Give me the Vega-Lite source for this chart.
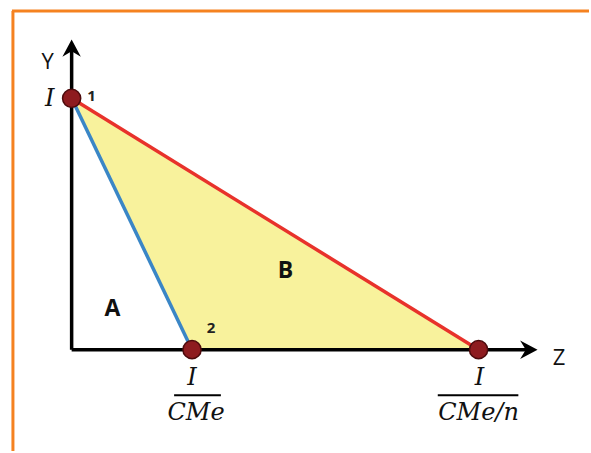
{
  "$schema": "https://vega.github.io/schema/vega-lite/v6.json",
  "width": 591,
  "height": 453,
  "padding": 0,
  "autosize": {"type": "fit", "contains": "padding"},
  "background": "white",
  "config": {"view": {"stroke": null}},
  "datasets": {
    "frame": [
      {"x": -6.0, "y": 34.1, "x2": 52.0, "y2": 34.1},
      {"x": -5.9, "y": 34.1, "x2": -5.9, "y2": -10.2}
    ],
    "axes": [
      {"x": 0, "y": 0, "x2": 46.0, "y2": 0},
      {"x": 0, "y": 0, "x2": 0, "y2": 30.5}
    ],
    "heads": [
      {"x": 0, "y": 30.2, "angle": 0},
      {"x": 45.8, "y": 0, "angle": 90}
    ],
    "triangle": [
      {"x": 0, "y": 25.3, "y2": 25.3},
      {"x": 12.1, "y": 17.82, "y2": 0},
      {"x": 40.9, "y": 0, "y2": 0}
    ],
    "segments": [
      {"x": 0, "y": 25.3, "x2": 12.1, "y2": 0, "line": "blue"},
      {"x": 0, "y": 25.3, "x2": 40.9, "y2": 0, "line": "red"}
    ],
    "bars": [
      {"x": 10.3, "y": -4.6, "x2": 15.0, "y2": -4.6},
      {"x": 36.8, "y": -4.6, "x2": 44.9, "y2": -4.6}
    ],
    "points": [
      {"x": 0, "y": 25.3, "id": "1"},
      {"x": 12.1, "y": 0, "id": "2"},
      {"x": 40.9, "y": 0, "id": "3"}
    ],
    "axisLabels": [
      {"x": -2.4, "y": 29.0, "label": "Y"},
      {"x": 49.0, "y": -0.8, "label": "Z"}
    ],
    "numLabels": [
      {"x": 2.0, "y": 25.5, "label": "1"},
      {"x": 14.0, "y": 2.2, "label": "2"}
    ],
    "regionLabels": [
      {"x": 4.1, "y": 4.1, "label": "A"},
      {"x": 21.5, "y": 7.9, "label": "B"}
    ],
    "mathLabels": [
      {"x": -2.2, "y": 25.2, "label": "I"},
      {"x": 12.1, "y": -2.9, "label": "I"},
      {"x": 12.5, "y": -6.4, "label": "CMe"},
      {"x": 41.0, "y": -2.9, "label": "I"},
      {"x": 40.9, "y": -6.4, "label": "CMe/n"}
    ]
  },
  "encoding": {
    "x": {"field": "x", "type": "quantitative", "scale": {"domain": [-7.2, 51.9], "nice": false, "zero": false}, "axis": null},
    "y": {"field": "y", "type": "quantitative", "scale": {"domain": [-10.1, 35.2], "nice": false, "zero": false}, "axis": null}
  },
  "layer": [
    {
      "data": {"name": "frame"},
      "mark": {"type": "rule", "color": "#f58220", "strokeWidth": 3},
      "encoding": {"x2": {"field": "x2"}, "y2": {"field": "y2"}}
    },
    {
      "data": {"name": "triangle"},
      "mark": {"type": "area", "color": "#f8f29c", "opacity": 1},
      "encoding": {"y2": {"field": "y2"}}
    },
    {
      "data": {"name": "axes"},
      "mark": {"type": "rule", "color": "black", "strokeWidth": 3.5},
      "encoding": {"x2": {"field": "x2"}, "y2": {"field": "y2"}}
    },
    {
      "data": {"name": "heads"},
      "mark": {"type": "point", "shape": "M0,-1L0.9,0.7L0,0.15L-0.9,0.7Z", "filled": true, "color": "black", "opacity": 1, "size": 420},
      "encoding": {"angle": {"field": "angle", "type": "quantitative", "scale": null}}
    },
    {
      "data": {"name": "segments"},
      "mark": {"type": "rule", "strokeWidth": 3.5},
      "encoding": {
        "x2": {"field": "x2"},
        "y2": {"field": "y2"},
        "color": {"field": "line", "type": "nominal", "scale": {"domain": ["blue", "red"], "range": ["#3a86c6", "#e8322b"]}, "legend": null}
      }
    },
    {
      "data": {"name": "bars"},
      "mark": {"type": "rule", "color": "black", "strokeWidth": 2},
      "encoding": {"x2": {"field": "x2"}, "y2": {"field": "y2"}}
    },
    {
      "data": {"name": "points"},
      "mark": {"type": "point", "shape": "circle", "filled": true, "color": "#8e1b1f", "stroke": "#4d0a0c", "strokeWidth": 1.5, "opacity": 1, "size": 330}
    },
    {
      "data": {"name": "axisLabels"},
      "mark": {"type": "text", "font": "Open Sans", "fontSize": 22, "color": "#111111", "baseline": "middle", "align": "center"},
      "encoding": {"text": {"field": "label"}}
    },
    {
      "data": {"name": "numLabels"},
      "mark": {"type": "text", "font": "Open Sans", "fontSize": 15, "fontWeight": "bold", "color": "#222222", "baseline": "middle", "align": "center"},
      "encoding": {"text": {"field": "label"}}
    },
    {
      "data": {"name": "regionLabels"},
      "mark": {"type": "text", "font": "Open Sans", "fontSize": 23, "fontWeight": "bold", "color": "#111111", "baseline": "middle", "align": "center"},
      "encoding": {"text": {"field": "label"}}
    },
    {
      "data": {"name": "mathLabels"},
      "mark": {"type": "text", "font": "DejaVu Serif", "fontStyle": "italic", "fontSize": 24, "color": "#111111", "baseline": "middle", "align": "center"},
      "encoding": {"text": {"field": "label"}}
    }
  ]
}
